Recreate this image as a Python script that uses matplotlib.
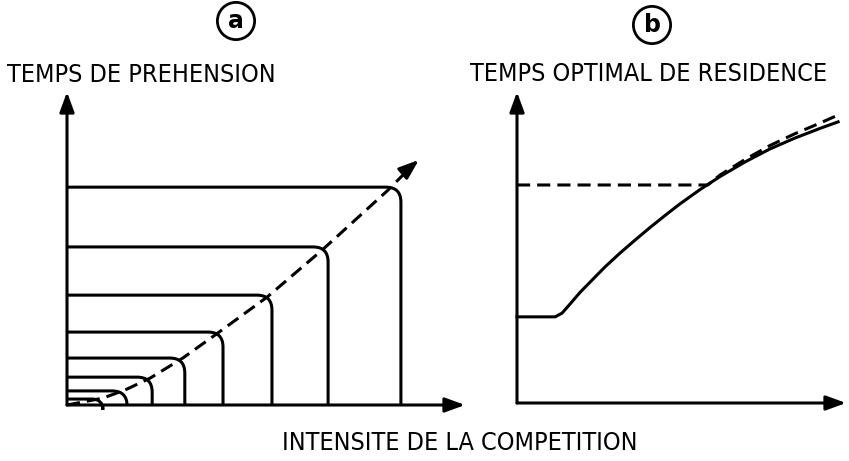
import matplotlib
matplotlib.use("Agg")
import matplotlib.pyplot as plt
from matplotlib.path import Path
from matplotlib.patches import PathPatch

# --- panel a: nested "handling time" boxes (right edge, top edge) ---
box_right = [83.9, 65.6, 51.5, 39.2, 29.6, 21.4, 15.1, 9.0]
box_top = [69.6, 50.5, 35.1, 23.3, 15.0, 8.9, 4.5, 1.9]
# dashed trend through the corners, ending in an arrow
trend_x = [0.0, 9.0, 14.6, 20.9, 29.1, 37.9, 50.3, 64.1, 80.7, 88.4]
trend_y = [0.0, 2.2, 4.8, 8.6, 15.0, 23.0, 34.5, 49.5, 68.7, 78.3]

# --- panel b: optimal residence time ---
opt_x = [0.0, 11.6, 13.7, 16.1, 19.1, 22.8, 26.7, 31.3, 35.9, 40.4, 45.0,
         49.5, 55.6, 61.7, 69.3, 76.9, 84.5, 92.1, 97.6]
opt_y = [27.7, 27.7, 28.9, 31.8, 35.5, 39.5, 43.7, 48.2, 52.4, 56.4, 60.3,
         64.0, 68.6, 72.8, 77.5, 81.7, 85.2, 88.3, 90.4]
alt_x = [0.0, 58.0, 61.7, 69.3, 76.9, 84.5, 92.1, 97.6]
alt_y = [70.1, 70.1, 73.3, 78.3, 82.8, 86.6, 90.0, 92.6]

W, H = 849, 461
LW = 2.2
DASH = (0, (4.3, 2.3))
FONT = ["DejaVu Sans"]

fig = plt.figure(figsize=(W / 100, H / 100), dpi=100)
ARROW = dict(arrowstyle="-|>,head_length=0.6,head_width=0.22", lw=LW,
             color="black", mutation_scale=20, shrinkA=0, shrinkB=0)


def make_axes(left, bottom, right, top):
    ax = fig.add_axes([left / W, 1 - bottom / H, (right - left) / W, (bottom - top) / H])
    ax.set_xlim(0, 100)
    ax.set_ylim(0, 100)
    ax.axis("off")
    ax.annotate("", xy=(100, 0), xytext=(0, 0), arrowprops=ARROW, annotation_clip=False)
    ax.annotate("", xy=(0, 100), xytext=(0, 0), arrowprops=ARROW, annotation_clip=False)
    return ax


ax_a = make_axes(67, 405, 465, 92)
ax_b = make_axes(517, 403, 846, 92)

# rounded-corner boxes in panel a
px_x, px_y = 398 / 100, 313 / 100
for w, h in zip(box_right, box_top):
    r = min(15.0, 0.3 * w * px_x)
    rx, ry = r / px_x, r / px_y
    verts = [(0, h), (w - rx, h), (w, h), (w, h - ry), (w, 0)]
    codes = [Path.MOVETO, Path.LINETO, Path.CURVE3, Path.CURVE3, Path.LINETO]
    ax_a.add_patch(PathPatch(Path(verts, codes), fill=False, lw=LW,
                             edgecolor="black", clip_on=False, capstyle="butt"))

# dashed trend all the way to the head, head drawn on the last few percent
ax_a.plot(trend_x[:-1] + [trend_x[-1] - 1.5], trend_y[:-1] + [trend_y[-1] - 1.6],
          color="black", lw=LW, linestyle=DASH, clip_on=False)
ax_a.annotate("", xy=(trend_x[-1], trend_y[-1]),
              xytext=(trend_x[-1] - 2.5, trend_y[-1] - 2.7),
              arrowprops=ARROW, annotation_clip=False)

ax_b.plot(opt_x, opt_y, color="black", lw=LW, clip_on=False, solid_joinstyle="round")
ax_b.plot(alt_x, alt_y, color="black", lw=LW, linestyle=DASH, clip_on=False)


def ftext(x, y, s, **kw):
    fig.text(x / W, 1 - y / H, s, family=FONT, va="center",
             fontsize=18, fontstretch="condensed", **kw)


ftext(7, 75, "TEMPS DE PREHENSION", ha="left")
ftext(470, 74, "TEMPS OPTIMAL DE RESIDENCE", ha="left")
ftext(460, 443, "INTENSITE DE LA COMPETITION", ha="center")

circ = dict(boxstyle="circle,pad=0.28", fc="white", ec="black", lw=2.0)
fig.text(236 / W, 1 - 21 / H, "a", family="DejaVu Sans", fontsize=17,
         fontweight="bold", ha="center", va="center", bbox=circ)
fig.text(652 / W, 1 - 25 / H, "b", family="DejaVu Sans", fontsize=17,
         fontweight="bold", ha="center", va="center", bbox=circ)

fig.savefig("out.png", dpi=100, facecolor="white")
